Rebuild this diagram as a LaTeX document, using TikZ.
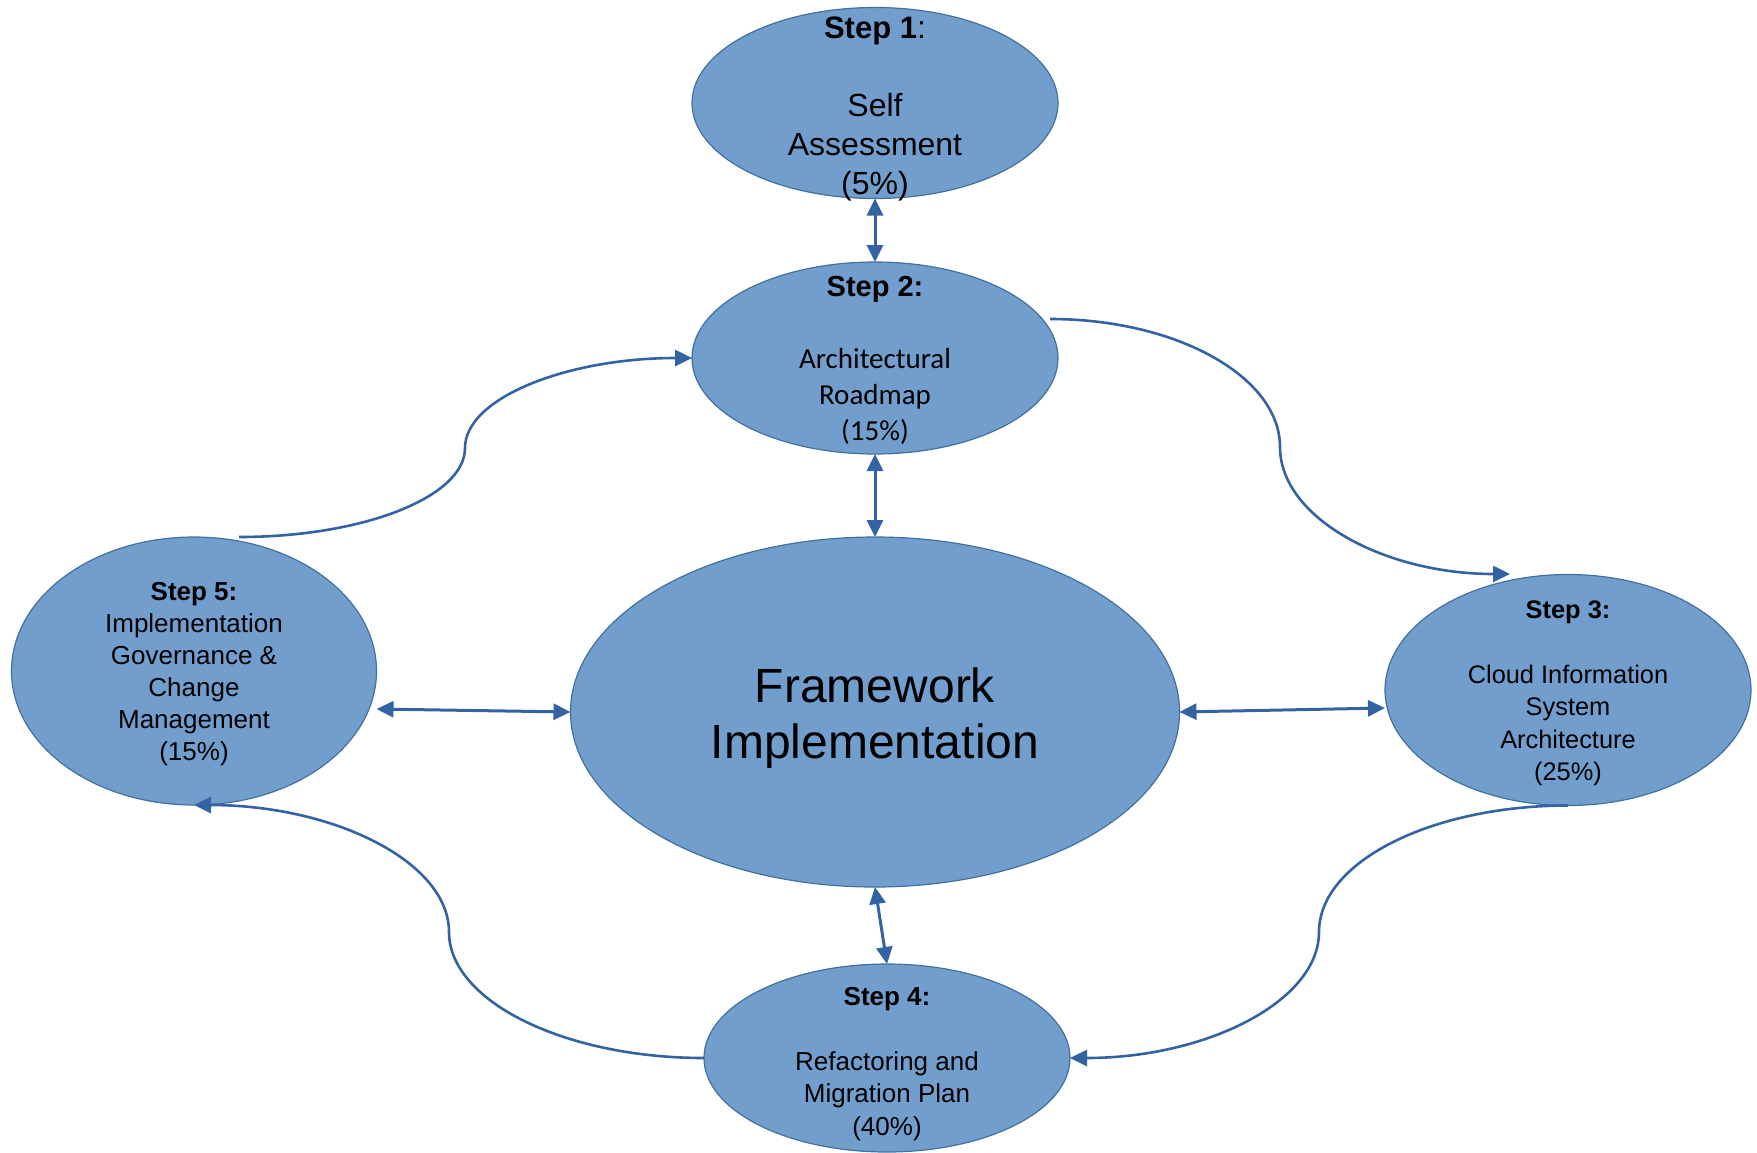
\documentclass[tikz,border=0pt]{standalone}
\usepackage{fontspec}
\setmainfont{Liberation Sans}
\newfontfamily\carlito{Carlito}
\usetikzlibrary{arrows.meta,shapes.geometric,calc}
\definecolor{stepfill}{RGB}{114,158,206}
\definecolor{stepline}{RGB}{65,113,156}
\definecolor{arrowblue}{RGB}{52,99,164}
\begin{document}
\begin{tikzpicture}[x=0.5pt,y=-0.5pt,
  stepshape/.style={ellipse, draw=stepline, line width=0.6pt, fill=stepfill, inner sep=0pt, outer sep=0pt},
  txt/.style={align=center, text=black, inner sep=0pt},
  link/.style={draw=arrowblue, line width=1.3pt},
  both/.style={link, line width=1.5pt, {Triangle[length=8.5pt,width=8pt]}-{Triangle[length=8.5pt,width=8pt]}},
  toend/.style={link, -{Triangle[length=8.5pt,width=8pt]}}]
\useasboundingbox (0,0) rectangle (1757,1152);

% ellipses
\node[stepshape, minimum width=183pt, minimum height=95.5pt] (s1) at (875,103) {};
\node[stepshape, minimum width=183pt, minimum height=96pt] (s2) at (875,358) {};
\node[stepshape, minimum width=304.5pt, minimum height=175pt] (fw) at (875,712) {};
\node[stepshape, minimum width=182.5pt, minimum height=134pt] (s5) at (194,671) {};
\node[stepshape, minimum width=183pt, minimum height=115.5pt] (s3) at (1568,690) {};
\node[stepshape, minimum width=183pt, minimum height=94pt] (s4) at (887,1058) {};

% texts
\node[txt, font=\fontsize{16}{19.5}\selectfont] (s1t) at (875,109)
  {{\fontsize{15.5}{19.5}\selectfont\bfseries Step 1}:\\[19.5pt]Self\\Assessment\\(5\%)};
\node[txt, font=\fontsize{14.5}{18}\selectfont] (s2t) at (875,360)
  {{\bfseries Step 2:}\\[18pt]{\carlito Architectural}\\{\carlito Roadmap}\\{\carlito (15\%)}};
\node[txt, font=\fontsize{24}{28}\selectfont] (fwt) at (875,718)
  {Framework\\Implementation};
\node[txt, font=\fontsize{13}{16}\selectfont] (s5t) at (194,674)
  {{\bfseries Step 5:}\\Implementation\\Governance \&\\Change\\Management\\(15\%)};
\node[txt, font=\fontsize{12.7}{16.25}\selectfont] (s3t) at (1568,693)
  {{\bfseries Step 3:}\\[16.25pt]Cloud Information\\System\\Architecture\\(25\%)};
\node[txt, font=\fontsize{13}{16.25}\selectfont] (s4t) at (887,1064)
  {{\bfseries Step 4:}\\[16.25pt]Refactoring and\\Migration Plan\\(40\%)};

% straight two-way arrows
\draw[both] (s1.south) -- (s2.north);
\draw[both] (s2.south) -- (fw.north);
\draw[both] (fw.south) -- (s4.north);
\draw[both] ($(s5.east)+(0,38)$) -- (fw.west);
\draw[both] (fw.east) -- ($(s3.west)+(0,18)$);

% curved one-way arrows
\draw[toend] ($(s2)+(175,-39)$) .. controls +(127,0) and +(0,-70) .. (1280,447)
  .. controls +(0,70) and +(-127,0) .. ($(s3)+(-58,-116)$);
\draw[toend] ($(s5.north)+(45,0)$) .. controls +(124,0) and +(0,49) .. (465,448)
  .. controls +(0,-50) and +(-125,0) .. (s2.west);
\draw[toend] (s3.south) .. controls +(-137,0) and +(0,-70) .. (1319,932)
  .. controls +(0,69) and +(137,0) .. (s4.east);
\draw[toend] (s4.west) .. controls +(-140,0) and +(0,69) .. (449,932)
  .. controls +(0,-70) and +(140,0) .. (s5.south);
\end{tikzpicture}
\end{document}
